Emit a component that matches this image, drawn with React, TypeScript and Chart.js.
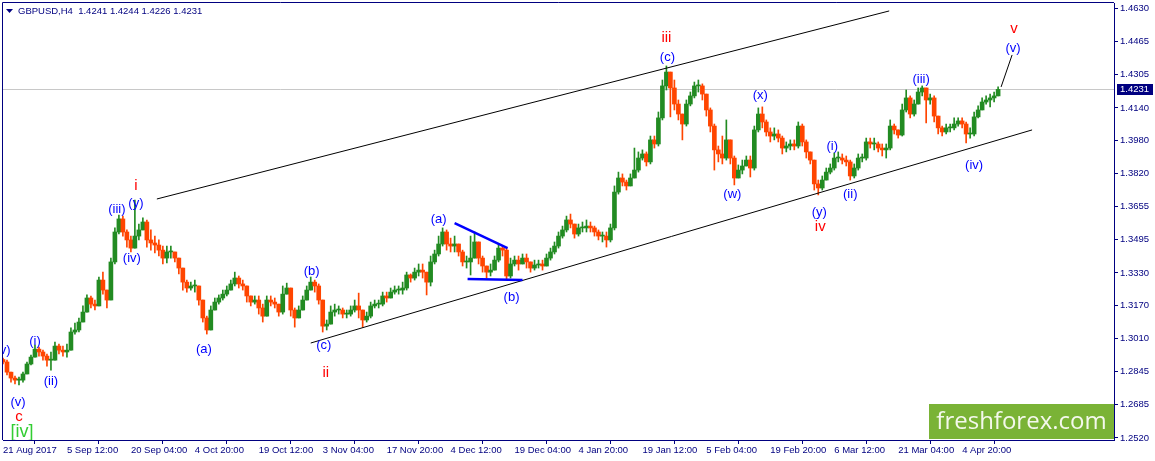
import React, { useEffect, useRef } from 'react';
import { Chart, registerables } from 'chart.js';

Chart.register(...registerables);

// ---------- data ----------
const SYMBOL = 'GBPUSD,H4';
const LAST_OHLC = [1.4241, 1.4244, 1.4226, 1.4231];
const CURRENT_PRICE = 1.4231;

const DATE_LABELS = [
  '21 Aug 2017', '5 Sep 12:00', '20 Sep 04:00', '4 Oct 20:00', '19 Oct 12:00', '3 Nov 04:00',
  '17 Nov 20:00', '4 Dec 12:00', '19 Dec 04:00', '4 Jan 20:00', '19 Jan 12:00', '5 Feb 04:00',
  '19 Feb 20:00', '6 Mar 12:00', '21 Mar 04:00', '4 Apr 20:00',
];
const LABEL_STEP = 16; // candles between date labels
const SLOT_COUNT = 279; // candle slots across the window

const PRICE_TICKS = [
  1.2520, 1.2685, 1.2845, 1.3010, 1.3170, 1.3330, 1.3495, 1.3655, 1.3820, 1.3980, 1.4140, 1.4305, 1.4465, 1.4630,
];

const FIRST_OPEN = 1.2905;

const CLOSES = [
  1.2893, 1.2843, 1.2814, 1.2804, 1.2804, 1.2834, 1.2883, 1.2917, 1.2956, 1.2942,
  1.2922, 1.2902, 1.2902, 1.2971, 1.2951, 1.2942, 1.2951, 1.3040, 1.3050, 1.3089,
  1.3138, 1.3207, 1.3177, 1.3168, 1.3295, 1.3246, 1.3197, 1.3384, 1.3531, 1.3595,
  1.3531, 1.3492, 1.3452, 1.3511, 1.3541, 1.3580, 1.3492, 1.3477, 1.3467, 1.3442,
  1.3403, 1.3433, 1.3433, 1.3403, 1.3354, 1.3285, 1.3256, 1.3266, 1.3266, 1.3197,
  1.3109, 1.3050, 1.3148, 1.3187, 1.3207, 1.3226, 1.3246, 1.3276, 1.3305, 1.3276,
  1.3266, 1.3217, 1.3187, 1.3197, 1.3158, 1.3118, 1.3197, 1.3187, 1.3177, 1.3138,
  1.3226, 1.3256, 1.3148, 1.3109, 1.3148, 1.3197, 1.3246, 1.3285, 1.3266, 1.3197,
  1.3069, 1.3079, 1.3138, 1.3148, 1.3148, 1.3128, 1.3128, 1.3148, 1.3168, 1.3148,
  1.3099, 1.3118, 1.3168, 1.3177, 1.3177, 1.3217, 1.3207, 1.3236, 1.3246, 1.3246,
  1.3256, 1.3320, 1.3305, 1.3334, 1.3344, 1.3334, 1.3285, 1.3384, 1.3423, 1.3472,
  1.3531, 1.3472, 1.3462, 1.3472, 1.3433, 1.3384, 1.3384, 1.3403, 1.3482, 1.3403,
  1.3364, 1.3334, 1.3344, 1.3393, 1.3452, 1.3442, 1.3315, 1.3374, 1.3393, 1.3374,
  1.3403, 1.3384, 1.3354, 1.3369, 1.3374, 1.3364, 1.3403, 1.3433, 1.3462, 1.3511,
  1.3541, 1.3590, 1.3570, 1.3521, 1.3551, 1.3551, 1.3560, 1.3551, 1.3531, 1.3511,
  1.3511, 1.3492, 1.3551, 1.3727, 1.3796, 1.3776, 1.3757, 1.3796, 1.3835, 1.3894,
  1.3914, 1.3875, 1.3983, 1.3963, 1.4091, 1.4248, 1.4316, 1.4238, 1.4159, 1.4110,
  1.4061, 1.4159, 1.4199, 1.4248, 1.4248, 1.4208, 1.4130, 1.4051, 1.3934, 1.3914,
  1.3894, 1.3983, 1.3894, 1.3796, 1.3835, 1.3855, 1.3884, 1.3845, 1.4032, 1.4110,
  1.4071, 1.4022, 1.4002, 1.4012, 1.3992, 1.3943, 1.3953, 1.3963, 1.3953, 1.4051,
  1.3973, 1.3924, 1.3884, 1.3767, 1.3747, 1.3786, 1.3825, 1.3845, 1.3894, 1.3894,
  1.3884, 1.3875, 1.3806, 1.3845, 1.3894, 1.3894, 1.3973, 1.3963, 1.3963, 1.3943,
  1.3934, 1.3943, 1.4051, 1.4032, 1.4007, 1.4130, 1.4189, 1.4110, 1.4159, 1.4218,
  1.4238, 1.4179, 1.4189, 1.4100, 1.4042, 1.4022, 1.4042, 1.4042, 1.4061, 1.4076,
  1.4061, 1.4012, 1.4012, 1.4096, 1.4130, 1.4169, 1.4179, 1.4189, 1.4199, 1.4231,
];

const HIGHS = [
  1.2912, 1.2902, 1.2834, 1.2824, 1.2819, 1.2843, 1.2893, 1.2927, 1.2976, 1.2966,
  1.2951, 1.2932, 1.2942, 1.2991, 1.2981, 1.2971, 1.2981, 1.3060, 1.3084, 1.3109,
  1.3168, 1.3222, 1.3217, 1.3197, 1.3310, 1.3334, 1.3246, 1.3403, 1.3551, 1.3614,
  1.3609, 1.3541, 1.3511, 1.3688, 1.3570, 1.3600, 1.3590, 1.3541, 1.3511, 1.3492,
  1.3462, 1.3462, 1.3462, 1.3433, 1.3393, 1.3334, 1.3295, 1.3285, 1.3295, 1.3256,
  1.3187, 1.3118, 1.3168, 1.3207, 1.3222, 1.3246, 1.3266, 1.3295, 1.3334, 1.3315,
  1.3295, 1.3266, 1.3217, 1.3217, 1.3217, 1.3177, 1.3217, 1.3217, 1.3207, 1.3168,
  1.3266, 1.3280, 1.3256, 1.3158, 1.3168, 1.3217, 1.3266, 1.3310, 1.3295, 1.3276,
  1.3197, 1.3099, 1.3168, 1.3177, 1.3168, 1.3158, 1.3148, 1.3168, 1.3197, 1.3231,
  1.3148, 1.3138, 1.3187, 1.3197, 1.3197, 1.3236, 1.3236, 1.3256, 1.3266, 1.3266,
  1.3285, 1.3334, 1.3325, 1.3354, 1.3374, 1.3374, 1.3334, 1.3413, 1.3442, 1.3511,
  1.3551, 1.3541, 1.3501, 1.3511, 1.3472, 1.3442, 1.3413, 1.3511, 1.3531, 1.3482,
  1.3413, 1.3364, 1.3374, 1.3413, 1.3472, 1.3462, 1.3452, 1.3403, 1.3413, 1.3413,
  1.3423, 1.3423, 1.3384, 1.3393, 1.3393, 1.3393, 1.3423, 1.3452, 1.3482, 1.3531,
  1.3560, 1.3609, 1.3619, 1.3570, 1.3570, 1.3580, 1.3590, 1.3580, 1.3560, 1.3541,
  1.3531, 1.3531, 1.3570, 1.3757, 1.3825, 1.3816, 1.3786, 1.3816, 1.3943, 1.3924,
  1.3934, 1.3924, 1.4002, 1.4002, 1.4120, 1.4277, 1.4346, 1.4316, 1.4277, 1.4179,
  1.4110, 1.4179, 1.4218, 1.4267, 1.4277, 1.4258, 1.4208, 1.4140, 1.4061, 1.3953,
  1.4002, 1.4081, 1.3983, 1.3904, 1.3860, 1.3884, 1.3904, 1.3904, 1.4051, 1.4140,
  1.4145, 1.4081, 1.4042, 1.4042, 1.4032, 1.4002, 1.3973, 1.3983, 1.3983, 1.4071,
  1.4061, 1.3983, 1.3924, 1.3884, 1.3786, 1.3806, 1.3845, 1.3865, 1.3919, 1.3924,
  1.3914, 1.3904, 1.3884, 1.3865, 1.3914, 1.3914, 1.3992, 1.3992, 1.3992, 1.3973,
  1.3963, 1.3963, 1.4081, 1.4061, 1.4032, 1.4159, 1.4228, 1.4199, 1.4179, 1.4238,
  1.4248, 1.4238, 1.4208, 1.4199, 1.4100, 1.4051, 1.4061, 1.4061, 1.4091, 1.4091,
  1.4091, 1.4071, 1.4042, 1.4120, 1.4150, 1.4189, 1.4199, 1.4208, 1.4218, 1.4244,
];

const LOWS = [
  1.2883, 1.2829, 1.2794, 1.2785, 1.2780, 1.2794, 1.2834, 1.2878, 1.2917, 1.2922,
  1.2902, 1.2873, 1.2853, 1.2922, 1.2932, 1.2922, 1.2917, 1.2961, 1.3030, 1.3040,
  1.3099, 1.3148, 1.3158, 1.3148, 1.3168, 1.3226, 1.3158, 1.3197, 1.3374, 1.3521,
  1.3511, 1.3457, 1.3433, 1.3452, 1.3492, 1.3541, 1.3457, 1.3442, 1.3428, 1.3413,
  1.3374, 1.3379, 1.3403, 1.3384, 1.3325, 1.3246, 1.3236, 1.3246, 1.3236, 1.3172,
  1.3089, 1.3030, 1.3050, 1.3158, 1.3177, 1.3197, 1.3217, 1.3246, 1.3266, 1.3256,
  1.3246, 1.3187, 1.3168, 1.3177, 1.3128, 1.3089, 1.3148, 1.3168, 1.3158, 1.3118,
  1.3128, 1.3226, 1.3118, 1.3064, 1.3118, 1.3148, 1.3197, 1.3246, 1.3236, 1.3177,
  1.3040, 1.3050, 1.3089, 1.3118, 1.3128, 1.3109, 1.3109, 1.3118, 1.3138, 1.3109,
  1.3064, 1.3089, 1.3109, 1.3158, 1.3158, 1.3168, 1.3187, 1.3207, 1.3226, 1.3226,
  1.3226, 1.3246, 1.3285, 1.3295, 1.3315, 1.3305, 1.3222, 1.3266, 1.3374, 1.3413,
  1.3462, 1.3442, 1.3433, 1.3433, 1.3413, 1.3364, 1.3354, 1.3320, 1.3442, 1.3374,
  1.3334, 1.3305, 1.3315, 1.3344, 1.3384, 1.3413, 1.3295, 1.3305, 1.3364, 1.3344,
  1.3374, 1.3354, 1.3334, 1.3344, 1.3354, 1.3344, 1.3364, 1.3393, 1.3423, 1.3452,
  1.3501, 1.3531, 1.3551, 1.3501, 1.3511, 1.3531, 1.3531, 1.3531, 1.3511, 1.3492,
  1.3482, 1.3457, 1.3482, 1.3541, 1.3717, 1.3757, 1.3737, 1.3757, 1.3806, 1.3825,
  1.3884, 1.3855, 1.3865, 1.3943, 1.3953, 1.4081, 1.4228, 1.4096, 1.4130, 1.4081,
  1.3983, 1.4051, 1.4150, 1.4189, 1.4218, 1.4179, 1.4100, 1.4022, 1.3835, 1.3875,
  1.3865, 1.3884, 1.3865, 1.3762, 1.3796, 1.3816, 1.3855, 1.3801, 1.3835, 1.4022,
  1.4042, 1.4002, 1.3973, 1.3983, 1.3973, 1.3914, 1.3924, 1.3934, 1.3934, 1.3943,
  1.3953, 1.3894, 1.3865, 1.3737, 1.3713, 1.3737, 1.3786, 1.3816, 1.3835, 1.3875,
  1.3865, 1.3855, 1.3786, 1.3796, 1.3835, 1.3875, 1.3884, 1.3943, 1.3934, 1.3924,
  1.3904, 1.3894, 1.3934, 1.4012, 1.3992, 1.4002, 1.4120, 1.4091, 1.4100, 1.4159,
  1.4199, 1.4066, 1.4159, 1.4071, 1.4012, 1.4002, 1.4012, 1.4022, 1.4032, 1.4051,
  1.4042, 1.3968, 1.3992, 1.4002, 1.4091, 1.4130, 1.4159, 1.4145, 1.4169, 1.4199,
];

// Trend / channel lines: [candle index, price]
const CHANNEL_LINES = [
  { from: [38.5, 1.3693], to: [221.75, 1.4616] },
  { from: [77, 1.2986], to: [257.5, 1.4032] },
  { from: [249.75, 1.4243], to: [252.5, 1.4400] },
];
const TRIANGLE_LINES = [
  { from: [113, 1.3575], to: [126.25, 1.3452] },
  { from: [116.25, 1.3300], to: [130, 1.3295] },
];

// Elliott wave labels: text, candle index, price, kind
const WAVE_LABELS: [string, number, number, string][] = [
  ['(v)', 0, 1.2951, 'minor'],
  ['(i)', 8, 1.2996, 'minor'],
  ['(ii)', 12, 1.2799, 'minor'],
  ['(v)', 3.75, 1.2696, 'minor'],
  ['c', 4, 1.2622, 'major'],
  ['[iv]', 4.75, 1.2549, 'big'],
  ['(iii)', 28.5, 1.3644, 'minor'],
  ['(y)', 33.25, 1.3673, 'minor'],
  ['i', 33.25, 1.3757, 'major'],
  ['(iv)', 32.25, 1.3403, 'minor'],
  ['(a)', 50.25, 1.2956, 'minor'],
  ['(b)', 77.25, 1.3339, 'minor'],
  ['(c)', 80.25, 1.2976, 'minor'],
  ['ii', 80.75, 1.2839, 'major'],
  ['(a)', 109, 1.3595, 'minor'],
  ['(b)', 127.25, 1.3212, 'minor'],
  ['iii', 166, 1.4483, 'major'],
  ['(c)', 166.25, 1.4390, 'minor'],
  ['(w)', 182.5, 1.3717, 'minor'],
  ['(x)', 189.5, 1.4199, 'minor'],
  ['(i)', 207.5, 1.3953, 'minor'],
  ['(y)', 204.25, 1.3629, 'minor'],
  ['iv', 204.5, 1.3555, 'major'],
  ['(ii)', 212, 1.3717, 'minor'],
  ['(iii)', 229.75, 1.4282, 'minor'],
  ['v', 253, 1.4528, 'major'],
  ['(v)', 252.75, 1.4434, 'minor'],
  ['(iv)', 243, 1.3860, 'minor'],
];

const LOGO_TEXT = 'freshforex.com';

// ---------- styling ----------
const NAVY = '#000080';
const UP = '#228B22';
const DOWN = '#FF4500';
const FONT = "'Liberation Sans', Arial, sans-serif";

const xLabels = Array.from({ length: SLOT_COUNT }, (_, i) =>
  i % LABEL_STEP === 0 && i / LABEL_STEP < DATE_LABELS.length ? DATE_LABELS[i / LABEL_STEP] : ''
);
const labelIndices = DATE_LABELS.map((_, k) => k * LABEL_STEP);

const n = Math.min(CLOSES.length, HIGHS.length, LOWS.length);
const opens = CLOSES.slice(0, n).map((c, i) => (i === 0 ? FIRST_OPEN : CLOSES[i - 1]));
const bodies = opens.map((o, i) => [o, CLOSES[i]]);
const wicks = opens.map((o, i) => [
  Math.min(LOWS[i], o, CLOSES[i]),
  Math.max(HIGHS[i], o, CLOSES[i]),
]);
const colors = opens.map((o, i) => (CLOSES[i] >= o ? UP : DOWN));

const overlayPlugin = {
  id: 'overlay',
  beforeDatasetsDraw(chart: any) {
    const { ctx, chartArea: a, scales } = chart;
    const y = scales.y;
    const py = Math.round(y.getPixelForValue(CURRENT_PRICE)) + 0.5;
    ctx.save();
    ctx.strokeStyle = '#C8C8C8';
    ctx.lineWidth = 1;
    ctx.beginPath();
    ctx.moveTo(a.left, py);
    ctx.lineTo(a.right, py);
    ctx.stroke();
    ctx.restore();
  },
  afterDatasetsDraw(chart: any) {
    const { ctx, chartArea: a, scales } = chart;
    const x = scales.x;
    const y = scales.y;
    ctx.save();
    ctx.beginPath();
    ctx.rect(a.left, a.top, a.right - a.left, a.bottom - a.top);
    ctx.clip();

    ctx.strokeStyle = '#000000';
    ctx.lineWidth = 1;
    CHANNEL_LINES.forEach((l) => {
      ctx.beginPath();
      ctx.moveTo(x.getPixelForValue(l.from[0]), y.getPixelForValue(l.from[1]));
      ctx.lineTo(x.getPixelForValue(l.to[0]), y.getPixelForValue(l.to[1]));
      ctx.stroke();
    });

    ctx.strokeStyle = '#0000FF';
    ctx.lineWidth = 2.5;
    TRIANGLE_LINES.forEach((l) => {
      ctx.beginPath();
      ctx.moveTo(x.getPixelForValue(l.from[0]), y.getPixelForValue(l.from[1]));
      ctx.lineTo(x.getPixelForValue(l.to[0]), y.getPixelForValue(l.to[1]));
      ctx.stroke();
    });

    ctx.textAlign = 'center';
    ctx.textBaseline = 'middle';
    WAVE_LABELS.forEach(([text, idx, price, kind]) => {
      if (kind === 'major') {
        ctx.fillStyle = '#FF0000';
        ctx.font = `15px ${FONT}`;
      } else if (kind === 'big') {
        ctx.fillStyle = '#32CD32';
        ctx.font = `18px ${FONT}`;
      } else {
        ctx.fillStyle = '#0000FF';
        ctx.font = `13px ${FONT}`;
      }
      ctx.fillText(text, x.getPixelForValue(idx), y.getPixelForValue(price));
    });
    ctx.restore();
  },
  afterDraw(chart: any) {
    const { ctx, chartArea: a, scales } = chart;
    const y = scales.y;
    ctx.save();
    // frame top & left
    ctx.strokeStyle = NAVY;
    ctx.lineWidth = 1;
    ctx.beginPath();
    ctx.moveTo(a.left - 0.5, a.bottom);
    ctx.lineTo(a.left - 0.5, a.top - 0.5);
    ctx.lineTo(a.right, a.top - 0.5);
    ctx.stroke();

    // current price box
    const py = y.getPixelForValue(CURRENT_PRICE);
    ctx.fillStyle = NAVY;
    ctx.fillRect(a.right + 3, Math.round(py) - 5, 36, 11);
    ctx.fillStyle = '#FFFFFF';
    ctx.font = `9.5px ${FONT}`;
    ctx.textAlign = 'left';
    ctx.textBaseline = 'middle';
    ctx.fillText(CURRENT_PRICE.toFixed(4), a.right + 6, Math.round(py) + 0.5);

    // header
    ctx.fillStyle = NAVY;
    ctx.beginPath();
    ctx.moveTo(a.left + 3, a.top + 6);
    ctx.lineTo(a.left + 10, a.top + 6);
    ctx.lineTo(a.left + 6.5, a.top + 10);
    ctx.closePath();
    ctx.fill();
    ctx.font = `9.5px ${FONT}`;
    ctx.fillText(
      `${SYMBOL}  ${LAST_OHLC.map((v) => v.toFixed(4)).join(' ')}`,
      a.left + 15,
      a.top + 8.5
    );

    // logo
    const lw = 185;
    const lh = 35;
    const lx = a.right - lw;
    const ly = a.bottom - lh - 1;
    ctx.fillStyle = '#7AB336';
    ctx.fillRect(lx, ly, lw, lh);
    ctx.fillStyle = '#F4F8EC';
    ctx.font = `24px 'Open Sans', ${FONT}`;
    ctx.textAlign = 'center';
    ctx.textBaseline = 'alphabetic';
    ctx.fillText(LOGO_TEXT, lx + lw / 2, ly + 25);
    ctx.restore();
  },
};

export default function App() {
  const ref = useRef<HTMLCanvasElement>(null);
  useEffect(() => {
    if (!ref.current) return;
    Chart.defaults.font.family = FONT;
    const chart = new Chart(ref.current, {
      type: 'bar',
      data: {
        labels: xLabels,
        datasets: [
          {
            label: 'wick',
            data: wicks as any,
            backgroundColor: colors,
            barThickness: 1,
            grouped: false,
            borderWidth: 0,
            order: 2,
          } as any,
          {
            label: 'body',
            data: bodies as any,
            backgroundColor: colors,
            barThickness: 4,
            grouped: false,
            borderWidth: 0,
            minBarLength: 1,
            order: 1,
          } as any,
        ],
      },
      options: {
        responsive: false,
        animation: false,
        devicePixelRatio: 1,
        layout: { padding: { left: 3, top: 3, right: 0, bottom: 0 } },
        plugins: { legend: { display: false }, tooltip: { enabled: false } },
        scales: {
          x: {
            type: 'category',
            offset: false,
            afterBuildTicks: (s: any) => {
              s.ticks = labelIndices.map((v) => ({ value: v }));
            },
            afterFit: (s: any) => {
              s.height = 21;
              s.paddingLeft = 0;
              s.paddingRight = 0;
            },
            grid: { drawOnChartArea: false, color: NAVY, tickLength: 4 },
            border: { color: NAVY },
            ticks: {
              autoSkip: false,
              maxRotation: 0,
              minRotation: 0,
              align: 'start',
              padding: 1,
              color: NAVY,
              font: { size: 9.5, family: FONT },
            },
          },
          y: {
            type: 'linear',
            position: 'right',
            min: 1.2510,
            max: 1.4655,
            afterBuildTicks: (s: any) => {
              s.ticks = PRICE_TICKS.map((v) => ({ value: v }));
            },
            afterFit: (s: any) => {
              s.width = 41;
              s.paddingTop = 0;
              s.paddingBottom = 0;
            },
            grid: { drawOnChartArea: false, color: NAVY, tickLength: 4 },
            border: { color: NAVY },
            ticks: {
              padding: 2,
              color: NAVY,
              font: { size: 9.5, family: FONT },
              callback: (v: any) => Number(v).toFixed(4),
            },
          },
        },
      } as any,
      plugins: [overlayPlugin],
    });
    return () => chart.destroy();
  }, []);

  return (
    <div style={{ position: 'fixed', left: 0, top: 0, width: 1155, height: 461, background: '#FFFFFF' }}>
      <canvas ref={ref} width={1155} height={461} style={{ display: 'block' }} />
    </div>
  );
}
